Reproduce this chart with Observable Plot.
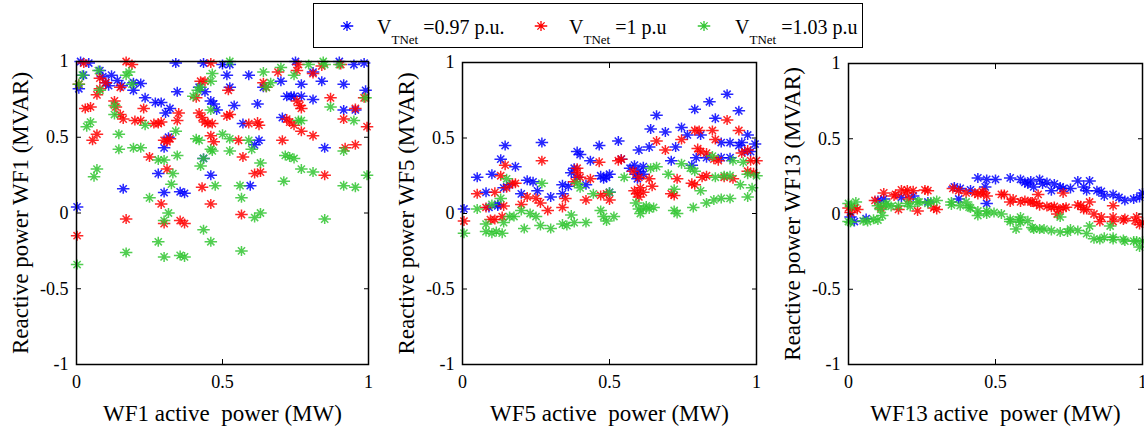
<!DOCTYPE html>
<html><head><meta charset="utf-8">
<script src="https://cdn.jsdelivr.net/npm/d3@7"></script>
<script src="https://cdn.jsdelivr.net/npm/@observablehq/plot@0.6"></script>
<style>
body{margin:0;background:#fff;}
#wrap{position:relative;width:1144px;height:432px;overflow:hidden;font-family:"Liberation Serif","Times New Roman",serif;color:#000;}
.panel{position:absolute;top:0px;}
.panel svg{overflow:visible;}
.panel svg, .panel svg text{font-family:"Liberation Serif","Times New Roman",serif !important;}
#legend{position:absolute;left:313px;top:3px;width:548px;height:43px;border:1px solid #000;background:#fff;z-index:2;}
.mk{position:absolute;top:14px;width:16px;height:16px;}
.lt{position:absolute;top:13px;font-size:20px;line-height:1;white-space:nowrap;}
.lt .sub{font-size:13px;vertical-align:-10px;}
</style>
</head><body>
<div id="wrap">
  <div id="legend"></div>
  <div class="panel" id="p1" style="left:0px"></div>
  <div class="panel" id="p2" style="left:386px"></div>
  <div class="panel" id="p3" style="left:772px"></div>
</div>
<script>
// ---------- data ----------
const seriesNames = ["0.97 p.u.", "1 p.u", "1.03 p.u"];
const seriesColors = ["#0000ff", "#ff0000", "#33c633"];
const xTicks = [0, 0.5, 1];
const yTicks = [-1, -0.5, 0, 0.5, 1];

const wf1_097 = [[0.014,1.0],[0.042,0.99],[0.008,0.82],[0.002,0.04],[0.024,0.91],[0.08,0.94],[0.09,0.9],[0.1,0.86],[0.12,0.91],[0.14,0.875],[0.155,0.84],[0.11,0.84],[0.195,0.86],[0.22,0.855],[0.195,0.81],[0.16,0.16],[0.235,0.76],[0.27,0.73],[0.29,0.73],[0.305,0.66],[0.32,0.69],[0.345,0.80],[0.315,0.50],[0.30,0.43],[0.28,0.26],[0.30,0.135],[0.355,0.14],[0.37,0.13],[0.34,0.99],[0.435,0.99],[0.50,0.98],[0.525,0.98],[0.42,0.83],[0.44,0.80],[0.46,0.74],[0.47,0.72],[0.515,0.91],[0.525,0.83],[0.48,0.68],[0.54,0.71],[0.59,0.91],[0.57,0.59],[0.62,0.72],[0.625,0.48],[0.61,0.45],[0.595,0.18],[0.435,0.36],[0.46,0.25],[0.64,0.83],[0.70,0.87],[0.705,0.63],[0.72,0.77],[0.735,0.77],[0.745,0.77],[0.75,1.0],[0.77,0.85],[0.77,0.77],[0.81,0.75],[0.81,0.93],[0.84,0.87],[0.85,0.43],[0.90,1.0],[0.915,0.85],[0.915,0.68],[0.95,0.98],[0.985,0.99],[0.99,0.81],[0.955,0.68]];
const wf1_100 = [[0.025,0.99],[0.008,0.85],[0.002,-0.15],[0.03,0.69],[0.048,0.70],[0.07,0.78],[0.08,0.89],[0.08,0.82],[0.10,0.86],[0.07,0.52],[0.055,0.48],[0.13,0.74],[0.135,0.70],[0.15,0.65],[0.16,0.62],[0.17,1.0],[0.19,0.98],[0.15,0.83],[0.20,0.61],[0.22,0.61],[0.23,0.69],[0.17,-0.04],[0.25,0.37],[0.265,0.59],[0.28,0.59],[0.29,0.60],[0.30,0.48],[0.31,0.47],[0.32,0.49],[0.31,0.29],[0.29,0.06],[0.30,-0.07],[0.355,-0.05],[0.37,-0.07],[0.345,0.61],[0.35,0.66],[0.425,0.87],[0.44,0.87],[0.41,0.76],[0.42,0.66],[0.43,0.63],[0.44,0.60],[0.45,0.59],[0.465,0.59],[0.43,0.17],[0.46,0.06],[0.46,0.99],[0.46,0.51],[0.47,0.47],[0.52,0.81],[0.525,0.65],[0.515,0.64],[0.555,0.48],[0.57,0.37],[0.565,-0.01],[0.59,0.59],[0.62,0.60],[0.625,0.58],[0.61,0.26],[0.63,0.27],[0.64,0.86],[0.65,0.83],[0.69,0.93],[0.705,0.48],[0.72,0.62],[0.73,0.60],[0.745,0.58],[0.76,0.98],[0.755,0.94],[0.755,0.74],[0.765,0.71],[0.77,0.69],[0.77,0.54],[0.81,0.51],[0.81,0.92],[0.85,0.25],[0.87,0.76],[0.84,0.97],[0.905,0.98],[0.915,0.62],[0.92,0.43],[0.955,0.45],[0.955,0.69],[0.995,0.57],[0.985,0.76]];
const wf1_103 = [[0.002,-0.34],[0.008,0.85],[0.02,0.91],[0.035,0.57],[0.048,0.60],[0.06,0.24],[0.07,0.29],[0.075,0.94],[0.08,0.81],[0.13,0.65],[0.13,0.71],[0.145,0.52],[0.145,0.42],[0.17,-0.26],[0.17,0.91],[0.18,0.93],[0.195,0.43],[0.22,0.43],[0.19,0.85],[0.235,0.58],[0.25,0.10],[0.28,0.35],[0.30,0.35],[0.28,-0.19],[0.30,-0.29],[0.30,-0.05],[0.315,0.00],[0.325,0.19],[0.33,0.26],[0.34,0.54],[0.345,0.38],[0.355,-0.28],[0.37,-0.29],[0.40,0.77],[0.415,0.81],[0.425,0.83],[0.41,0.49],[0.42,0.48],[0.425,0.31],[0.435,0.36],[0.435,-0.11],[0.46,-0.19],[0.46,0.42],[0.465,0.41],[0.465,0.92],[0.46,0.87],[0.46,0.68],[0.475,0.18],[0.50,0.52],[0.525,0.49],[0.525,0.41],[0.525,1.0],[0.56,0.18],[0.565,0.10],[0.565,-0.25],[0.59,0.48],[0.60,0.42],[0.61,-0.03],[0.63,0.00],[0.63,0.33],[0.64,0.93],[0.65,0.83],[0.665,0.86],[0.70,0.96],[0.71,0.21],[0.715,0.38],[0.73,0.37],[0.745,0.36],[0.745,0.91],[0.76,0.61],[0.77,0.61],[0.77,0.29],[0.795,0.98],[0.81,0.27],[0.845,1.0],[0.85,0.98],[0.87,0.70],[0.85,-0.04],[0.915,0.41],[0.915,0.18],[0.955,0.17],[0.95,0.61],[0.99,0.76],[0.995,0.25],[0.90,0.98]];

const wf5_097 = [[0.005,0.03],[0.05,0.24],[0.08,0.14],[0.10,0.26],[0.09,0.04],[0.12,0.05],[0.12,0.06],[0.13,0.36],[0.145,0.45],[0.14,0.17],[0.16,0.19],[0.18,0.31],[0.20,0.13],[0.22,0.22],[0.24,0.21],[0.27,0.47],[0.255,0.15],[0.30,0.11],[0.34,0.13],[0.34,0.19],[0.36,0.18],[0.37,0.27],[0.38,0.30],[0.39,0.41],[0.40,0.39],[0.39,0.24],[0.435,0.35],[0.42,0.19],[0.465,0.45],[0.47,0.25],[0.48,0.23],[0.49,0.24],[0.50,0.26],[0.53,0.48],[0.54,0.36],[0.50,0.14],[0.57,0.30],[0.585,0.32],[0.59,0.26],[0.595,0.23],[0.60,0.28],[0.60,0.42],[0.615,0.26],[0.615,0.31],[0.64,0.56],[0.635,0.44],[0.66,0.65],[0.69,0.54],[0.725,0.44],[0.71,0.35],[0.745,0.57],[0.765,0.52],[0.79,0.69],[0.78,0.32],[0.795,0.37],[0.81,0.52],[0.84,0.74],[0.86,0.63],[0.90,0.79],[0.94,0.68],[0.88,0.47],[0.91,0.47],[0.94,0.45],[0.95,0.47],[0.96,0.41],[0.97,0.52],[0.995,0.46],[0.98,0.41],[0.88,0.37],[0.91,0.37],[0.83,0.37]];
const wf5_100 = [[0.005,-0.05],[0.05,0.13],[0.08,0.04],[0.095,-0.04],[0.11,-0.04],[0.135,-0.02],[0.11,0.14],[0.13,0.25],[0.145,0.32],[0.14,0.05],[0.15,0.17],[0.17,0.20],[0.18,0.20],[0.20,0.06],[0.22,0.11],[0.25,0.10],[0.265,0.07],[0.27,0.35],[0.29,0.02],[0.34,0.04],[0.35,0.10],[0.39,0.27],[0.39,0.30],[0.40,0.24],[0.38,0.21],[0.42,0.09],[0.435,0.23],[0.465,0.34],[0.47,0.12],[0.49,0.13],[0.50,0.09],[0.53,0.35],[0.54,0.36],[0.58,0.28],[0.585,0.15],[0.595,0.13],[0.60,0.11],[0.605,0.17],[0.615,0.14],[0.60,0.24],[0.635,0.23],[0.645,0.18],[0.66,0.48],[0.69,0.42],[0.71,0.13],[0.72,0.12],[0.73,0.23],[0.745,0.49],[0.78,0.20],[0.79,0.19],[0.79,0.55],[0.805,0.55],[0.80,0.43],[0.81,0.41],[0.815,0.24],[0.83,0.25],[0.83,0.40],[0.85,0.55],[0.86,0.49],[0.90,0.62],[0.94,0.55],[0.855,0.36],[0.87,0.35],[0.89,0.24],[0.92,0.23],[0.95,0.40],[0.97,0.42],[0.98,0.35],[1.0,0.35],[0.97,0.28],[0.99,0.27]];
const wf5_103 = [[0.005,-0.13],[0.05,0.03],[0.08,-0.12],[0.10,-0.13],[0.115,-0.12],[0.135,-0.13],[0.08,-0.07],[0.10,0.06],[0.13,0.10],[0.14,-0.06],[0.16,-0.02],[0.15,0.23],[0.175,-0.02],[0.20,0.02],[0.21,-0.10],[0.23,0.00],[0.25,-0.02],[0.27,0.20],[0.265,-0.08],[0.30,-0.10],[0.34,-0.07],[0.355,-0.08],[0.37,-0.01],[0.38,-0.06],[0.39,0.20],[0.40,0.17],[0.42,-0.06],[0.445,0.13],[0.47,0.02],[0.48,-0.02],[0.49,-0.05],[0.515,-0.02],[0.50,0.14],[0.55,0.24],[0.59,0.07],[0.60,0.03],[0.605,0.00],[0.615,0.03],[0.625,0.05],[0.635,0.03],[0.64,0.30],[0.65,0.04],[0.66,0.31],[0.70,0.26],[0.72,0.02],[0.73,0.00],[0.72,0.16],[0.745,0.33],[0.775,0.30],[0.79,0.28],[0.81,0.15],[0.785,0.04],[0.83,0.07],[0.855,0.09],[0.88,0.10],[0.91,0.10],[0.85,0.38],[0.86,0.24],[0.89,0.25],[0.91,0.25],[0.945,0.19],[0.97,0.11],[0.985,0.17],[0.97,0.26],[1.0,0.25],[0.955,0.34],[0.92,0.35]];

const wf13_097 = [[0.007,-0.02],[0.02,-0.05],[0.06,-0.03],[0.10,0.09],[0.12,0.10],[0.18,0.11],[0.22,0.12],[0.27,0.08],[0.36,0.18],[0.375,0.10],[0.38,0.17],[0.415,0.16],[0.465,0.18],[0.47,0.07],[0.44,0.24],[0.47,0.23],[0.50,0.23],[0.55,0.24],[0.585,0.23],[0.60,0.21],[0.61,0.20],[0.62,0.22],[0.63,0.18],[0.65,0.23],[0.66,0.20],[0.675,0.21],[0.69,0.155],[0.70,0.20],[0.72,0.18],[0.73,0.17],[0.755,0.17],[0.78,0.22],[0.80,0.18],[0.81,0.155],[0.82,0.22],[0.845,0.155],[0.86,0.15],[0.87,0.12],[0.90,0.13],[0.92,0.11],[0.94,0.09],[0.97,0.10],[0.99,0.11],[1.0,0.14]];
const wf13_100 = [[0.0,0.04],[0.007,0.01],[0.02,0.04],[0.03,0.03],[0.09,0.09],[0.11,0.04],[0.12,0.14],[0.155,0.12],[0.16,0.13],[0.17,0.03],[0.18,0.16],[0.195,0.14],[0.20,0.16],[0.205,0.10],[0.22,0.155],[0.235,0.02],[0.26,0.16],[0.27,0.155],[0.29,0.04],[0.30,0.03],[0.355,0.17],[0.375,0.155],[0.40,0.14],[0.43,0.14],[0.44,0.13],[0.455,0.15],[0.46,0.14],[0.47,0.12],[0.52,0.13],[0.53,0.13],[0.55,0.08],[0.56,0.10],[0.585,0.08],[0.60,0.09],[0.62,0.08],[0.625,0.08],[0.64,0.07],[0.645,0.13],[0.65,0.055],[0.675,0.05],[0.69,0.045],[0.70,0.05],[0.71,0.00],[0.715,0.03],[0.73,0.04],[0.73,0.14],[0.74,0.045],[0.78,0.06],[0.79,0.055],[0.80,0.03],[0.81,0.03],[0.82,0.08],[0.835,0.00],[0.855,-0.05],[0.86,-0.02],[0.90,-0.02],[0.90,0.055],[0.90,-0.05],[0.935,-0.04],[0.94,-0.03],[0.975,-0.045],[0.98,-0.02],[0.99,-0.07],[1.0,-0.055]];
const wf13_103 = [[0.0,0.07],[0.0,-0.05],[0.01,0.05],[0.025,0.08],[0.007,-0.055],[0.05,-0.045],[0.065,-0.05],[0.085,-0.035],[0.10,-0.04],[0.115,-0.01],[0.10,0.055],[0.11,0.03],[0.125,0.06],[0.13,0.07],[0.145,0.05],[0.17,0.055],[0.20,0.07],[0.21,0.05],[0.235,0.08],[0.24,0.08],[0.27,0.07],[0.28,0.08],[0.30,0.09],[0.35,0.08],[0.35,0.06],[0.38,0.055],[0.40,0.08],[0.41,0.045],[0.415,0.04],[0.44,0.02],[0.44,-0.01],[0.47,0.02],[0.47,0.00],[0.495,0.01],[0.52,0.00],[0.55,-0.035],[0.55,-0.05],[0.57,-0.10],[0.58,-0.04],[0.585,-0.055],[0.585,-0.02],[0.61,-0.045],[0.625,-0.09],[0.63,-0.10],[0.65,-0.10],[0.665,-0.10],[0.69,-0.11],[0.72,-0.12],[0.72,-0.02],[0.745,-0.12],[0.755,-0.10],[0.78,-0.11],[0.81,-0.13],[0.82,-0.08],[0.835,-0.165],[0.855,-0.17],[0.87,-0.155],[0.89,-0.08],[0.90,-0.155],[0.90,-0.17],[0.935,-0.17],[0.94,-0.18],[0.97,-0.18],[0.98,-0.18],[0.99,-0.22],[1.0,-0.18]];

const panels = [
  {id:"p1", series:[wf1_097, wf1_100, wf1_103], ylab:"Reactive power WF1 (MVAR)", xlab:"WF1 active\u00a0 power (MW)", pw:292, mr:18, mt:61},
  {id:"p2", series:[wf5_097, wf5_100, wf5_103], ylab:"Reactive power WF5 (MVAR)", xlab:"WF5 active\u00a0 power (MW)", pw:294, mr:16, mt:62},
  {id:"p3", series:[wf13_097, wf13_100, wf13_103], ylab:"Reactive power WF13 (MVAR)", xlab:"WF13 active\u00a0 power (MW)", pw:294, mr:2, mt:63}
];

// MATLAB-like "*" marker
const star = {
  draw(ctx, size) {
    const r = Math.sqrt(size / Math.PI), h = r * 1.25, d = r * 0.72;
    ctx.moveTo(-h, 0); ctx.lineTo(h, 0);
    ctx.moveTo(0, -r); ctx.lineTo(0, r);
    ctx.moveTo(-d, -d); ctx.lineTo(d, d);
    ctx.moveTo(-d, d); ctx.lineTo(d, -d);
  }
};
const fmt = d => String(d);
const FONT = "Liberation Serif";
const H = 432, bottom = 364;

for (const p of panels) {
  const rows = [];
  p.series.forEach((arr, k) => arr.forEach(([x, y]) => rows.push({x, y, s: seriesNames[k]})));
  const chart = Plot.plot({
    width: 76 + p.pw + p.mr, height: H,
    marginLeft: 76, marginRight: p.mr, marginTop: p.mt, marginBottom: H - bottom,
    x: {domain: [0, 1]}, y: {domain: [-1, 1]},
    color: {domain: seriesNames, range: seriesColors},
    style: {fontFamily: FONT, fontSize: "18px", background: "transparent", color: "#000", overflow: "visible"},
    marks: [
      Plot.dot(rows, {x: "x", y: "y", stroke: "s", symbol: star, r: 5, fill: "none", strokeWidth: 1.5, strokeOpacity: 0.85}),
      Plot.frame({stroke: "#000", strokeWidth: 1.5}),
      Plot.axisX({ticks: xTicks, tickSize: 0, tickPadding: 11, tickFormat: fmt, label: null, fontFamily: FONT}),
      Plot.axisY({ticks: yTicks, tickSize: 0, tickPadding: 8, tickFormat: fmt, label: null, fontFamily: FONT}),
      Plot.axisX({ticks: xTicks, anchor: "bottom", tickSize: -5, tickFormat: () => "", label: null}),
      Plot.axisX({ticks: xTicks, anchor: "top", tickSize: -5, tickFormat: () => "", label: null}),
      Plot.axisY({ticks: yTicks, anchor: "left", tickSize: -5, tickFormat: () => "", label: null}),
      Plot.axisY({ticks: yTicks, anchor: "right", tickSize: -5, tickFormat: () => "", label: null}),
      Plot.text([p.xlab], {text: d => d, frameAnchor: "bottom", textAnchor: "middle", dy: 56, fontSize: 23, fontFamily: FONT}),
      Plot.text([p.ylab], {text: d => d, frameAnchor: "left", textAnchor: "middle", rotate: -90, dx: -56, fontSize: 23, fontFamily: FONT})
    ]
  });
  document.getElementById(p.id).appendChild(chart);
}

// legend
const legend = document.getElementById("legend");
const legendMarkerX = [346, 540, 703];
const legendTextX = [376, 568, 734];
seriesNames.forEach((name, k) => {
  const svg = d3.create("svg").attr("class", "mk").attr("width", 16).attr("height", 16)
    .style("left", (legendMarkerX[k] - 313 - 8) + "px");
  svg.append("path").attr("transform", "translate(8,8)")
    .attr("d", d3.symbol(star, 5 * 5 * Math.PI)())
    .attr("stroke", seriesColors[k]).attr("stroke-width", 1.3).attr("fill", "none");
  legend.appendChild(svg.node());
  const t = document.createElement("div");
  t.className = "lt";
  t.style.left = (legendTextX[k] - 313) + "px";
  t.innerHTML = 'V<span class="sub">TNet</span> =' + name;
  legend.appendChild(t);
});
</script>
</body></html>
